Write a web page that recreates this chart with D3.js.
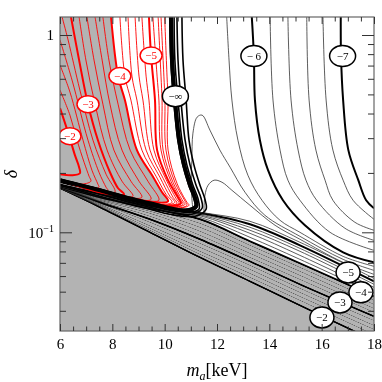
<!DOCTYPE html>
<html><head><meta charset="utf-8">
<script src="https://cdn.jsdelivr.net/npm/d3@7"></script>
<style>
body{margin:0;background:#fff}
svg{display:block;font-family:"Liberation Serif","Times New Roman",serif}
</style></head><body>
<svg id="chart" width="382" height="382"></svg>
<script>
// axis ranges and ticks
var xDomain = [6, 18];
var deltaDomain = [0.0316, 1.234];
var xTickLabels = [6, 8, 10, 12, 14, 16, 18];
var xMinorTicks = [6.5, 7, 7.5, 8.5, 9, 9.5, 10.5, 11, 11.5, 12.5, 13, 13.5, 14.5, 15, 15.5, 16.5, 17, 17.5];
var yMajorTicks = [0.1, 1];
var yMinorTicks = [0.04, 0.05, 0.06, 0.07, 0.08, 0.09, 0.2, 0.3, 0.4, 0.5, 0.6, 0.7, 0.8, 0.9];

// red contours (left of the singular line), points are [m_a, delta]
var redContours = [
  {level: -2,   pts: [[6.0,.426],[6.34,.311],[6.57,.246],[6.73,.2138],[6.76,.1993],[6.46,.1947],[6.0,.197]]},
  {level: -2.2, pts: [[6.0,.526],[6.38,.3925],[6.65,.293],[6.92,.2266],[7.11,.1924],[7.18,.1815],[6.76,.1752],[6.0,.1837]]},
  {level: -2.4, pts: [[6.0,.704],[6.38,.514],[6.88,.293],[7.22,.2064],[7.45,.1752],[7.49,.1692],[7.07,.1672],[6.0,.1837]]},
  {level: -2.6, pts: [[6.0,.943],[6.46,.591],[7.07,.293],[7.49,.2016],[7.76,.1692],[7.83,.1633],[7.34,.1633],[6.0,.1837]]},
  {level: -2.8, pts: [[6.08,1.234],[6.31,.943],[6.76,.526],[7.26,.293],[7.76,.197],[8.10,.1596],[7.64,.1577],[6.0,.1837]]},
  {level: -3,   pts: [[6.42,1.234],[6.73,.7465],[7.07,.446],[7.45,.293],[7.91,.2016],[8.22,.1672],[8.45,.1559],[7.91,.1559],[6.0,.1837]]},
  {level: -3.2, pts: [[6.73,1.234],[6.99,.7465],[7.34,.446],[7.80,.261],[8.37,.1815],[8.79,.1523],[8.22,.1541],[7.53,.1633],[6.0,.1837]]},
  {level: -3.4, pts: [[7.03,1.234],[7.30,.7465],[7.64,.446],[8.06,.261],[8.71,.1815],[9.13,.1505],[8.56,.1505],[7.53,.1633],[6.0,.1837]]},
  {level: -3.6, pts: [[7.34,1.234],[7.61,.7465],[7.91,.446],[8.37,.261],[9.02,.1815],[9.48,.1470],[8.90,.1470],[7.53,.1633],[6.0,.1837]]},
  {level: -3.8, pts: [[7.64,1.234],[7.87,.7465],[8.22,.446],[8.68,.261],[9.36,.1815],[9.78,.1453],[9.21,.1453],[8.48,.1505],[7.53,.1633],[6.0,.1837]]},
  {level: -4,   pts: [[7.95,1.234],[8.22,.619],[8.48,.468],[8.94,.261],[9.52,.1947],[9.90,.1596],[10.13,.1437],[9.52,.1420],[8.48,.1505],[7.53,.1633],[6.0,.1837]]},
  {level: -4.2, pts: [[8.29,1.234],[8.48,.619],[8.71,.468],[9.13,.261],[9.67,.1924],[10.05,.1559],[10.28,.1420],[9.82,.1387],[8.48,.1505],[7.53,.1633],[6.0,.1837]]},
  {level: -4.4, pts: [[8.60,1.234],[8.75,.619],[8.94,.468],[9.29,.261],[9.82,.190],[10.20,.1523],[10.39,.1420],[9.90,.1371],[8.48,.1505],[7.53,.1633],[6.0,.1837]]},
  {level: -4.6, pts: [[8.87,1.234],[9.02,.619],[9.17,.468],[9.44,.261],[9.94,.188],[10.32,.1505],[10.47,.1404],[9.97,.1371],[8.48,.1505],[7.53,.1633],[6.0,.1837]]},
  {level: -4.8, pts: [[9.13,1.234],[9.29,.619],[9.40,.468],[9.59,.261],[10.05,.1858],[10.43,.1488],[10.55,.1404],[10.05,.1371],[8.48,.1505],[7.53,.1633],[6.0,.1837]]},
  {level: -5,   pts: [[9.40,1.234],[9.48,.787],[9.63,.468],[9.71,.261],[10.13,.1837],[10.55,.1470],[10.62,.1404],[10.13,.1355],[8.48,.1505],[7.53,.1633],[6.0,.1837]]},
  {level: -5.2, pts: [[9.55,1.234],[9.71,.619],[9.78,.468],[9.86,.261],[10.24,.1815],[10.62,.1453],[10.70,.1387],[10.20,.1339],[8.48,.1505],[7.53,.1633],[6.0,.1837]]},
  {level: -5.4, pts: [[9.75,1.234],[9.86,.619],[9.90,.468],[9.94,.261],[10.32,.1794],[10.70,.1437],[10.78,.1387],[10.28,.1339],[8.48,.1505],[7.53,.1633],[6.0,.1837]]},
  {level: -5.6, pts: [[9.86,1.234],[9.97,.619],[10.01,.468],[10.05,.261],[10.39,.1794],[10.78,.1437],[10.85,.1371],[10.36,.1324],[8.48,.1505],[7.53,.1633],[6.0,.1837]]},
  {level: -5.8, pts: [[10.0,1.234],[10.09,.619],[10.13,.468],[10.13,.261],[10.47,.1773],[10.85,.1420],[10.93,.1371],[10.43,.1324],[8.48,.1505],[7.53,.1633],[6.0,.1837]]}
];

// black contours on the right, including the two tongues
var rightContours = [
  {level: -7,   pts: [[16.73,1.234],[16.74,.782],[16.82,.468],[17.02,.261],[17.40,.1837],[17.70,.1453],[18.0,.1324]]},
  {level: -6.8, pts: [[16.05,1.234],[16.17,.468],[16.43,.261],[16.82,.1837],[17.20,.1453],[18.0,.1164]]},
  {level: -6.6, pts: [[15.43,1.234],[15.52,.468],[15.78,.261],[16.13,.1837],[16.43,.1453],[17.27,.1124],[18.0,.1024]]},
  {level: -6.4, pts: [[14.71,1.234],[14.83,.468],[15.10,.261],[15.40,.1837],[15.81,.1453],[16.89,.1048],[18.0,.091]]},
  {level: -6.2, pts: [[14.03,1.234],[14.14,.468],[14.41,.261],[14.71,.1837],[15.17,.1453],[16.32,.1],[18.0,.081]]},
  {level: -6,   pts: [[13.33,1.234],[13.41,.782],[13.45,.468],[13.64,.293],[13.95,.2064],[14.52,.1453],[15.36,.1085],[16.82,.0791],[18.0,.0704]]},
  {level: -5.8, pts: [[12.37,1.234],[12.46,.7465],[12.57,.468],[12.80,.293],[13.18,.1947],[13.72,.1453],[14.41,.115],[15.17,.1],[16.82,.0755],[18.0,.0672]]},
  {level: -5.6, pts: [[11.08,.1293],[11.01,.1732],[11.04,.232],[11.08,.318],[11.24,.3835],[11.43,.3925],[11.73,.3295],[12.11,.261],[12.50,.2138],[13.07,.1596],[13.83,.122],[15.17,.0954],[16.82,.0729],[18.0,.0641]]},
  {level: -5.4, pts: [[11.50,.1263],[11.54,.1541],[11.66,.1732],[11.89,.1837],[12.19,.1794],[12.57,.1633],[13.26,.1371],[14.22,.1085],[15.17,.0922],[16.82,.0704],[18.0,.0612]]}
];

// lower family: delta values on a shared m_a grid
var lowerMass = [6, 7.53, 9.44, 11.35, 13.26, 15.17, 18];
var lowerContours = [
  {level: -2,   d: [.1672,.1339,.1,.0746,.0564,.0426,.0283]},
  {level: -2.2, d: [.1676,.1355,.1024,.0773,.0591,.0452,.0303]},
  {level: -2.4, d: [.1680,.1371,.1048,.0801,.0619,.0473,.0322]},
  {level: -2.6, d: [.1684,.1387,.1078,.0839,.0649,.0496,.0337]},
  {level: -2.8, d: [.1688,.1404,.1124,.0879,.0680,.0520,.0357]},
  {level: -3,   d: [.1692,.1420,.1164,.0922,.0712,.0545,.0375]},
  {level: -3.2, d: [.1696,.1437,.1206,.0966,.0746,.0577,.0393]},
  {level: -3.4, d: [.1700,.1453,.1248,.1012,.0782,.0605,.0411]},
  {level: -3.6, d: [.1704,.1470,.1278,.1060,.0820,.0634,.0431]},
  {level: -3.8, d: [.1708,.1488,.1301,.1110,.0859,.0664,.0452]},
  {level: -4,   d: [.1712,.1505,.1324,.1164,.0900,.0696,.0473]},
  {level: -4.2, d: [.1716,.1523,.1331,.1192,.0943,.0729,.0490]},
  {level: -4.4, d: [.1720,.1541,.1339,.1213,.0988,.0764,.0508]},
  {level: -4.6, d: [.1724,.1550,.1347,.1227,.1024,.0801,.0526]},
  {level: -4.8, d: [.1728,.1559,.1355,.1241,.1060,.0829,.0545]},
  {level: -5,   d: [.1732,.1568,.1363,.1255,.1098,.0859,.0564]},
  {level: -5.2, d: [.1736,.1577,.1371,.1263,.1137,.0890,.0584]}
];

// the singular line (log of zero) and the lines crowding around it
var singularLine = [[10.24,1.234],[10.28,.7465],[10.39,.468],[10.55,.293],[10.74,.219],[10.97,.1732],[11.16,.1488],[11.20,.1355],[10.89,.1293],[10.20,.1324],[9.44,.1404],[8.48,.1505],[7.53,.1633],[6.0,.1837]];
var bandContours = [
  [[10.36,1.234],[10.39,.7465],[10.51,.468],[10.66,.293],[10.85,.219],[11.08,.1732],[11.27,.1488],[11.31,.1308],[10.97,.1263],[10.20,.1293],[9.44,.1371],[8.48,.1470],[7.53,.1596],[6.0,.1794]],
  [[10.47,1.234],[10.51,.7465],[10.62,.468],[10.78,.293],[10.97,.219],[11.20,.1732],[11.39,.1488],[11.43,.1324],[11.04,.1234],[10.20,.1263],[9.44,.1339],[8.48,.1437],[7.53,.1559],[6.0,.1752]],
  [[10.66,1.234],[10.70,.7465],[10.82,.468],[10.93,.293],[11.12,.219],[11.35,.1732],[11.54,.1470],[11.58,.1308],[11.16,.1206],[10.20,.1234],[9.44,.1308],[8.48,.1404],[7.53,.1523],[6.0,.1732]]
];

// contour labels: [m_a, delta, text]
var redLabels = [[6.38,.307,"\u22122"],[7.07,.446,"\u22123"],[8.29,.619,"\u22124"],[9.48,.787,"\u22125"]];
var blackLabels = [[10.41,.490,"\u2212\u221e"],[13.41,.782,"\u2212 6"],[16.80,.782,"\u22127"],
                   [16.01,.0370,"\u22122"],[16.70,.0441,"\u22123"],[17.50,.0496,"\u22124"],[17.01,.0626,"\u22125"]];

var svg = d3.select("#chart");
var x = d3.scaleLinear().domain(xDomain).range([60, 374]);
var y = d3.scaleLog().domain(deltaDomain).range([331, 17]);

svg.append("defs").append("clipPath").attr("id", "plotclip")
  .append("rect").attr("x", 60).attr("y", 17).attr("width", 314).attr("height", 314);

var curve = d3.curveCatmullRom.alpha(0.5);
var line = d3.line().x(function(d){ return x(d[0]); }).y(function(d){ return y(d[1]); }).curve(curve);
var lowLine = d3.line().x(function(d, i){ return x(lowerMass[i]); }).y(function(d){ return y(d); }).curve(curve);
var lowArea = d3.area().x(function(d, i){ return x(lowerMass[i]); }).y0(345).y1(function(d){ return y(d); }).curve(curve);

function major(c) { return Number.isInteger(c.level); }

var blackLayer = svg.append("g").attr("clip-path", "url(#plotclip)");

// lower family
blackLayer.selectAll("path.low")
  .data(lowerContours)
  .enter().append("path")
  .attr("class", "low")
  .attr("d", function(c){ return lowLine(c.d); })
  .attr("fill", "none")
  .attr("stroke", function(c){ return major(c) ? "#000" : "#333"; })
  .attr("stroke-width", function(c){ return major(c) ? 2 : 0.8; });

// right family
blackLayer.selectAll("path.right")
  .data(rightContours)
  .enter().append("path")
  .attr("class", "right")
  .attr("d", function(c){ return line(c.pts); })
  .attr("fill", "none")
  .attr("stroke", function(c){ return major(c) ? "#000" : "#333"; })
  .attr("stroke-width", function(c){ return major(c) ? 2 : 0.8; });

// band around the singular line
blackLayer.selectAll("path.band")
  .data(bandContours)
  .enter().append("path")
  .attr("class", "band")
  .attr("d", function(c){ return line(c); })
  .attr("fill", "none")
  .attr("stroke", "#000")
  .attr("stroke-width", 1.6);
blackLayer.append("path")
  .attr("d", line(singularLine))
  .attr("fill", "none")
  .attr("stroke", "#000")
  .attr("stroke-width", 4);

// gray regions (value above -4), darkening what lies below
var fills = svg.append("g").attr("clip-path", "url(#plotclip)").style("mix-blend-mode", "darken");
var redFour = redContours.find(function(c){ return c.level === -4; }).pts;
fills.append("path")
  .attr("d", line([[7.95, 2]].concat(redFour, [[5.5, .1837], [5.5, 2]])) + "Z")
  .attr("fill", "#b3b3b3");
var lowFour = lowerContours.find(function(c){ return c.level === -4; }).d;
fills.append("path").attr("d", lowArea(lowFour)).attr("fill", "#b3b3b3");

var plot = svg.append("g").attr("clip-path", "url(#plotclip)");

// red contours
plot.selectAll("path.red")
  .data(redContours.filter(function(c){ return !major(c); }).concat(redContours.filter(major)))
  .enter().append("path")
  .attr("class", "red")
  .attr("d", function(c){ return line(c.pts); })
  .attr("fill", "none")
  .attr("stroke", "#ff0000")
  .attr("stroke-width", function(c){ return major(c) ? 2 : 0.9; });
plot.append("path")
  .attr("d", line(singularLine))
  .attr("fill", "none")
  .attr("stroke", "#000")
  .attr("stroke-width", 4);

// labels
function addLabels(data, color, rx, ry) {
  var g = plot.selectAll(null).data(data).enter().append("g")
    .attr("transform", function(d){ return "translate(" + [x(d[0]), y(d[1])] + ")"; });
  g.append("ellipse")
    .attr("rx", rx).attr("ry", ry)
    .attr("fill", "#fff").attr("stroke", color).attr("stroke-width", 1.5);
  g.append("text")
    .attr("text-anchor", "middle").attr("dy", "0.35em")
    .style("font-size", "11px").attr("fill", color)
    .text(function(d){ return d[2]; });
}
addLabels(redLabels, "#ff0000", 11, 8.5);
addLabels(blackLabels, "#000", function(d){ return d[1] > 0.3 ? 13 : 12; }, 10.5);

// frame
svg.append("rect").attr("x", 60).attr("y", 17).attr("width", 314).attr("height", 314)
  .attr("fill", "none").attr("stroke", "#666").attr("stroke-width", 1.2);

// axes with inward ticks
function axis(gen, tx, ty, vals, size, fmt) {
  var a = gen.tickValues(vals).tickSize(-size).tickPadding(7).tickFormat(fmt || function(){ return ""; });
  var g = svg.append("g").attr("transform", "translate(" + tx + "," + ty + ")").call(a);
  g.select(".domain").remove();
  g.selectAll("line").attr("stroke", "#333");
  g.selectAll("text").style("font-size", "15px").style("font-family", "Liberation Serif").attr("fill", "#000");
  return g;
}
axis(d3.axisBottom(x), 0, 331, xTickLabels, 7, d3.format("d"));
axis(d3.axisBottom(x), 0, 331, xMinorTicks, 4.5);
axis(d3.axisTop(x), 0, 17, xTickLabels, 7);
axis(d3.axisTop(x), 0, 17, xMinorTicks, 4.5);
axis(d3.axisLeft(y), 60, 0, yMajorTicks, 12);
axis(d3.axisLeft(y), 60, 0, yMinorTicks, 6);
axis(d3.axisRight(y), 374, 0, yMajorTicks, 12);
axis(d3.axisRight(y), 374, 0, yMinorTicks, 6);

// y tick labels
svg.append("text").attr("x", 54).attr("y", y(1)).attr("dy", "0.35em")
  .attr("text-anchor", "end").style("font-size", "15px").text("1");
var t = svg.append("text").attr("x", 54).attr("y", y(0.1)).attr("dy", "0.35em")
  .attr("text-anchor", "end").style("font-size", "15px");
t.append("tspan").text("10");
t.append("tspan").attr("dy", "-0.55em").style("font-size", "10px").text("\u22121");

// axis titles
var xt = svg.append("text").attr("x", 217).attr("y", 376).attr("text-anchor", "middle").style("font-size", "18px");
xt.append("tspan").style("font-style", "italic").text("m");
xt.append("tspan").style("font-style", "italic").style("font-size", "12px").attr("dy", "4").text("a");
xt.append("tspan").attr("dy", "-4").text("[keV]");
svg.append("text").attr("transform", "translate(17,174) rotate(-90)")
  .attr("text-anchor", "middle").style("font-size", "18px").style("font-style", "italic").text("\u03b4");
</script>
</body></html>
